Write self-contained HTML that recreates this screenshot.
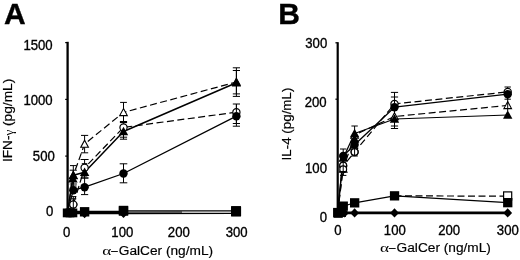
<!DOCTYPE html>
<html lang="en">
<head>
<meta charset="utf-8">
<title>Figure</title>
<style>
html,body{margin:0;padding:0;background:#fff;}
body{width:520px;height:260px;overflow:hidden;}
svg{display:block;font-family:"Liberation Sans", Arial, Helvetica, sans-serif;fill:#000;}
text{stroke:#000;stroke-width:0.35px;}
</style>
</head>
<body>
<svg width="520" height="260" viewBox="0 0 520 260">
<rect x="0" y="0" width="520" height="260" fill="#fff" stroke="none"/>
<text transform="translate(4.0,24.3) scale(1,1)" font-size="30" text-anchor="start" font-weight="bold">A</text>
<text transform="translate(278.2,24.3) scale(1,1)" font-size="30" text-anchor="start" font-weight="bold">B</text>
<line x1="67.6" y1="41.8" x2="67.6" y2="214.0" stroke="#000" stroke-width="2.3"/>
<line x1="65.2" y1="42.6" x2="67.6" y2="42.6" stroke="#000" stroke-width="1.2"/>
<line x1="65.2" y1="99.4" x2="67.6" y2="99.4" stroke="#000" stroke-width="1.2"/>
<line x1="65.2" y1="156.1" x2="67.6" y2="156.1" stroke="#000" stroke-width="1.2"/>
<text transform="translate(52.7,50.3) scale(0.94,1)" font-size="14" text-anchor="end" font-weight="normal">1500</text>
<text transform="translate(52.7,105.0) scale(0.94,1)" font-size="14" text-anchor="end" font-weight="normal">1000</text>
<text transform="translate(54.8,160.8) scale(0.94,1)" font-size="14" text-anchor="end" font-weight="normal">500</text>
<text transform="translate(53.3,215.6) scale(0.94,1)" font-size="14" text-anchor="end" font-weight="normal">0</text>
<text transform="translate(66.7,236.5) scale(0.94,1)" font-size="14" text-anchor="middle" font-weight="normal">0</text>
<text transform="translate(122.3,236.5) scale(0.94,1)" font-size="14" text-anchor="middle" font-weight="normal">100</text>
<text transform="translate(178.8,236.5) scale(0.94,1)" font-size="14" text-anchor="middle" font-weight="normal">200</text>
<text transform="translate(236.7,236.5) scale(0.94,1)" font-size="14" text-anchor="middle" font-weight="normal">300</text>
<text transform="translate(102.2,254.8) scale(1.28,1)" font-family='"Liberation Serif", "DejaVu Serif", serif' font-size="13.5" style="stroke:none">α</text>
<text x="111.2" y="254.8" font-size="13" textLength="6.4" lengthAdjust="spacingAndGlyphs">–</text>
<text x="118.80000000000001" y="254.8" font-size="13.7" style="stroke-width:0.18px">GalCer (ng/mL)</text>
<text transform="translate(12.4,162.1) rotate(-90)" font-size="13.7" style="stroke-width:0.2px">IFN-<tspan font-family='"Liberation Serif", "DejaVu Serif", serif' font-size="13" style="stroke:none" dy="0.9">γ</tspan><tspan dy="-0.9"> (pg/mL)</tspan></text>
<line x1="236.4" y1="67.8" x2="236.4" y2="96.4" stroke="#000" stroke-width="1.0"/>
<line x1="232.8" y1="67.8" x2="240.0" y2="67.8" stroke="#000" stroke-width="1.0"/>
<line x1="232.8" y1="96.4" x2="240.0" y2="96.4" stroke="#000" stroke-width="1.0"/>
<line x1="236.4" y1="70.5" x2="236.4" y2="93.9" stroke="#000" stroke-width="1.0"/>
<line x1="232.8" y1="70.5" x2="240.0" y2="70.5" stroke="#000" stroke-width="1.0"/>
<line x1="232.8" y1="93.9" x2="240.0" y2="93.9" stroke="#000" stroke-width="1.0"/>
<line x1="236.4" y1="104.0" x2="236.4" y2="126.2" stroke="#000" stroke-width="1.0"/>
<line x1="232.8" y1="104.0" x2="240.0" y2="104.0" stroke="#000" stroke-width="1.0"/>
<line x1="232.8" y1="126.2" x2="240.0" y2="126.2" stroke="#000" stroke-width="1.0"/>
<line x1="236.4" y1="114.0" x2="236.4" y2="123.5" stroke="#000" stroke-width="1.0"/>
<line x1="232.8" y1="114.0" x2="240.0" y2="114.0" stroke="#000" stroke-width="1.0"/>
<line x1="232.8" y1="123.5" x2="240.0" y2="123.5" stroke="#000" stroke-width="1.0"/>
<line x1="123.5" y1="102.4" x2="123.5" y2="122.6" stroke="#000" stroke-width="1.0"/>
<line x1="120.1" y1="102.4" x2="126.9" y2="102.4" stroke="#000" stroke-width="1.0"/>
<line x1="120.1" y1="122.6" x2="126.9" y2="122.6" stroke="#000" stroke-width="1.0"/>
<line x1="123.5" y1="121.5" x2="123.5" y2="139.2" stroke="#000" stroke-width="1.0"/>
<line x1="119.9" y1="121.5" x2="127.1" y2="121.5" stroke="#000" stroke-width="1.0"/>
<line x1="119.9" y1="139.2" x2="127.1" y2="139.2" stroke="#000" stroke-width="1.0"/>
<line x1="123.5" y1="122.5" x2="123.5" y2="137.2" stroke="#000" stroke-width="1.0"/>
<line x1="119.9" y1="122.5" x2="127.1" y2="122.5" stroke="#000" stroke-width="1.0"/>
<line x1="119.9" y1="137.2" x2="127.1" y2="137.2" stroke="#000" stroke-width="1.0"/>
<line x1="123.5" y1="163.8" x2="123.5" y2="182.8" stroke="#000" stroke-width="1.0"/>
<line x1="119.7" y1="163.8" x2="127.3" y2="163.8" stroke="#000" stroke-width="1.0"/>
<line x1="119.7" y1="182.8" x2="127.3" y2="182.8" stroke="#000" stroke-width="1.0"/>
<line x1="84.6" y1="135.4" x2="84.6" y2="152.8" stroke="#000" stroke-width="1.0"/>
<line x1="81.0" y1="135.4" x2="88.2" y2="135.4" stroke="#000" stroke-width="1.0"/>
<line x1="81.0" y1="152.8" x2="88.2" y2="152.8" stroke="#000" stroke-width="1.0"/>
<line x1="84.6" y1="159.5" x2="84.6" y2="178.0" stroke="#000" stroke-width="1.0"/>
<line x1="80.6" y1="159.5" x2="88.6" y2="159.5" stroke="#000" stroke-width="1.0"/>
<line x1="80.6" y1="178.0" x2="88.6" y2="178.0" stroke="#000" stroke-width="1.0"/>
<line x1="84.6" y1="163.7" x2="84.6" y2="176.0" stroke="#000" stroke-width="1.0"/>
<line x1="81.8" y1="163.7" x2="87.3" y2="163.7" stroke="#000" stroke-width="1.0"/>
<line x1="81.8" y1="176.0" x2="87.3" y2="176.0" stroke="#000" stroke-width="1.0"/>
<line x1="84.6" y1="178.0" x2="84.6" y2="194.6" stroke="#000" stroke-width="1.0"/>
<line x1="81.0" y1="178.0" x2="88.2" y2="178.0" stroke="#000" stroke-width="1.0"/>
<line x1="81.0" y1="194.6" x2="88.2" y2="194.6" stroke="#000" stroke-width="1.0"/>
<line x1="73.3" y1="165.6" x2="73.3" y2="186.0" stroke="#000" stroke-width="1.0"/>
<line x1="70.0" y1="165.6" x2="76.6" y2="165.6" stroke="#000" stroke-width="1.0"/>
<line x1="70.0" y1="186.0" x2="76.6" y2="186.0" stroke="#000" stroke-width="1.0"/>
<line x1="73.3" y1="170.2" x2="73.3" y2="184.0" stroke="#000" stroke-width="1.0"/>
<line x1="69.7" y1="170.2" x2="76.9" y2="170.2" stroke="#000" stroke-width="1.0"/>
<line x1="69.7" y1="184.0" x2="76.9" y2="184.0" stroke="#000" stroke-width="1.0"/>
<line x1="73.3" y1="198.8" x2="73.3" y2="211.0" stroke="#000" stroke-width="1.0"/>
<line x1="70.3" y1="198.8" x2="76.3" y2="198.8" stroke="#000" stroke-width="1.0"/>
<line x1="70.3" y1="211.0" x2="76.3" y2="211.0" stroke="#000" stroke-width="1.0"/>
<polyline points="67.6,211.0 73.3,175.5 84.6,144.0 123.5,112.4 236.4,82.0" fill="none" stroke="#000" stroke-width="1.2" stroke-dasharray="7 3.5" stroke-linejoin="round"/>
<polyline points="67.6,211.0 73.3,204.6 84.6,167.7 123.5,127.4 236.4,112.2" fill="none" stroke="#000" stroke-width="1.2" stroke-dasharray="7 3.5" stroke-linejoin="round"/>
<polyline points="67.6,211.0 73.3,175.3 84.6,172.2 123.5,131.5 236.4,82.8" fill="none" stroke="#000" stroke-width="1.5" stroke-linejoin="round"/>
<polyline points="67.6,211.0 73.3,190.2 84.6,187.2 123.5,173.5 236.4,116.2" fill="none" stroke="#000" stroke-width="1.3" stroke-linejoin="round"/>
<line x1="67.6" y1="212.5" x2="123.5" y2="212.5" stroke="#000" stroke-width="3.6"/>
<line x1="123.5" y1="210.9" x2="236.4" y2="210.8" stroke="#000" stroke-width="1.3"/>
<line x1="123.5" y1="213.5" x2="236.4" y2="213.4" stroke="#000" stroke-width="1.4"/>
<line x1="123.5" y1="212.2" x2="182.0" y2="212.0" stroke="#333" stroke-width="1.3"/>
<polygon points="73.3,171.7 77.1,178.7 69.5,178.7" fill="#fff" stroke="#000" stroke-width="1.1"/>
<polygon points="84.6,140.2 88.4,147.2 80.8,147.2" fill="#fff" stroke="#000" stroke-width="1.1"/>
<polygon points="123.5,108.6 127.3,115.6 119.7,115.6" fill="#fff" stroke="#000" stroke-width="1.1"/>
<polygon points="236.4,78.2 240.2,85.2 232.6,85.2" fill="#fff" stroke="#000" stroke-width="1.1"/>
<circle cx="73.3" cy="204.6" r="3.6" fill="#fff" stroke="#000" stroke-width="1.2"/>
<circle cx="84.6" cy="167.7" r="3.6" fill="#fff" stroke="#000" stroke-width="1.2"/>
<circle cx="123.5" cy="127.4" r="3.6" fill="#fff" stroke="#000" stroke-width="1.2"/>
<circle cx="236.4" cy="112.2" r="3.6" fill="#fff" stroke="#000" stroke-width="1.2"/>
<line x1="236.4" y1="104.0" x2="236.4" y2="112.0" stroke="#000" stroke-width="1.0"/>
<polygon points="73.3,170.5 78.0,179.1 68.6,179.1" fill="#000"/>
<polygon points="84.6,167.4 89.3,176.0 79.9,176.0" fill="#000"/>
<polygon points="123.5,126.7 128.2,135.3 118.8,135.3" fill="#000"/>
<polygon points="236.4,78.0 241.1,86.6 231.7,86.6" fill="#000"/>
<polygon points="72.8,173.9 77.7,182.5 67.9,182.5" fill="#000"/>
<circle cx="73.3" cy="190.2" r="4.2" fill="#000"/>
<circle cx="84.6" cy="187.2" r="4.2" fill="#000"/>
<circle cx="123.5" cy="173.5" r="4.2" fill="#000"/>
<circle cx="236.4" cy="116.2" r="4.2" fill="#000"/>
<rect x="79.9" y="207.1" width="9.4" height="9.4" fill="#000"/>
<rect x="118.8" y="206.3" width="9.4" height="9.4" fill="#000"/>
<rect x="231.7" y="206.7" width="9.4" height="9.4" fill="#000"/>
<rect x="118.8" y="205.8" width="9.4" height="9.4" fill="#000"/>
<rect x="62.8" y="208.5" width="8.8" height="8.8" fill="#000"/>
<rect x="65.6" y="208.5" width="8.8" height="8.8" fill="#000"/>
<rect x="68.5" y="208.5" width="8.8" height="8.8" fill="#000"/>
<rect x="231.1" y="206.1" width="9.8" height="9.8" fill="#000"/>
<rect x="231.1" y="206.7" width="9.8" height="9.8" fill="#000"/>
<polygon points="84.6,209.0 89.0,213.6 84.6,218.2 80.2,213.6" fill="#000"/>
<polygon points="123.5,208.8 127.9,213.4 123.5,218.0 119.1,213.4" fill="#000"/>
<circle cx="73.3" cy="204.6" r="3.6" fill="#fff" stroke="#000" stroke-width="1.2"/>
<line x1="73.3" y1="196.6" x2="73.3" y2="210.5" stroke="#000" stroke-width="1.0"/>
<line x1="70.5" y1="196.6" x2="76.1" y2="196.6" stroke="#000" stroke-width="1.0"/>
<line x1="70.5" y1="210.5" x2="76.1" y2="210.5" stroke="#000" stroke-width="1.0"/>
<line x1="337.7" y1="42.2" x2="337.7" y2="214.2" stroke="#000" stroke-width="2.2"/>
<line x1="335.4" y1="42.8" x2="337.7" y2="42.8" stroke="#000" stroke-width="1.2"/>
<line x1="335.4" y1="99.2" x2="337.7" y2="99.2" stroke="#000" stroke-width="1.2"/>
<text transform="translate(327.2,47.6) scale(0.94,1)" font-size="14" text-anchor="end" font-weight="normal">300</text>
<text transform="translate(326.6,106.8) scale(0.94,1)" font-size="14" text-anchor="end" font-weight="normal">200</text>
<text transform="translate(327.0,173.2) scale(0.94,1)" font-size="14" text-anchor="end" font-weight="normal">100</text>
<text transform="translate(327.0,222.0) scale(0.94,1)" font-size="14" text-anchor="end" font-weight="normal">0</text>
<text transform="translate(337.8,234.6) scale(0.94,1)" font-size="14" text-anchor="middle" font-weight="normal">0</text>
<text transform="translate(394.8,234.6) scale(0.94,1)" font-size="14" text-anchor="middle" font-weight="normal">100</text>
<text transform="translate(449.2,234.6) scale(0.94,1)" font-size="14" text-anchor="middle" font-weight="normal">200</text>
<text transform="translate(507.8,234.6) scale(0.94,1)" font-size="14" text-anchor="middle" font-weight="normal">300</text>
<text transform="translate(380.0,252.3) scale(1.28,1)" font-family='"Liberation Serif", "DejaVu Serif", serif' font-size="13.5" style="stroke:none">α</text>
<text x="389.0" y="252.3" font-size="13" textLength="6.4" lengthAdjust="spacingAndGlyphs">–</text>
<text x="396.6" y="252.3" font-size="13.7" style="stroke-width:0.18px">GalCer (ng/mL)</text>
<text transform="translate(291.0,160.5) rotate(-90)" font-size="13.4" style="stroke-width:0.2px">IL-4 (pg/mL)</text>
<line x1="394.5" y1="92.4" x2="394.5" y2="128.5" stroke="#000" stroke-width="1.0"/>
<line x1="390.9" y1="92.4" x2="398.1" y2="92.4" stroke="#000" stroke-width="1.0"/>
<line x1="390.9" y1="128.5" x2="398.1" y2="128.5" stroke="#000" stroke-width="1.0"/>
<line x1="394.5" y1="97.0" x2="394.5" y2="126.0" stroke="#000" stroke-width="1.0"/>
<line x1="390.9" y1="97.0" x2="398.1" y2="97.0" stroke="#000" stroke-width="1.0"/>
<line x1="390.9" y1="126.0" x2="398.1" y2="126.0" stroke="#000" stroke-width="1.0"/>
<line x1="354.6" y1="126.0" x2="354.6" y2="156.0" stroke="#000" stroke-width="1.0"/>
<line x1="351.4" y1="126.0" x2="357.8" y2="126.0" stroke="#000" stroke-width="1.0"/>
<line x1="351.4" y1="156.0" x2="357.8" y2="156.0" stroke="#000" stroke-width="1.0"/>
<line x1="343.2" y1="149.0" x2="343.2" y2="175.4" stroke="#000" stroke-width="1.0"/>
<line x1="340.0" y1="149.0" x2="346.4" y2="149.0" stroke="#000" stroke-width="1.0"/>
<line x1="340.0" y1="175.4" x2="346.4" y2="175.4" stroke="#000" stroke-width="1.0"/>
<line x1="507.7" y1="87.0" x2="507.7" y2="99.2" stroke="#000" stroke-width="1.0"/>
<line x1="504.5" y1="87.0" x2="510.9" y2="87.0" stroke="#000" stroke-width="1.0"/>
<line x1="504.5" y1="99.2" x2="510.9" y2="99.2" stroke="#000" stroke-width="1.0"/>
<polyline points="337.7,212.0 343.2,166.0 354.6,152.0 394.5,103.9 507.7,91.9" fill="none" stroke="#000" stroke-width="1.2" stroke-dasharray="7 3.5" stroke-linejoin="round"/>
<polyline points="337.7,212.0 343.2,169.0 354.6,135.0 394.5,116.5 507.7,105.4" fill="none" stroke="#000" stroke-width="1.2" stroke-dasharray="7 3.5" stroke-linejoin="round"/>
<polyline points="337.7,212.0 343.2,156.0 354.6,144.8 394.5,107.2 507.7,94.2" fill="none" stroke="#000" stroke-width="1.25" stroke-linejoin="round"/>
<polyline points="337.7,212.0 343.2,158.0 354.6,133.5 394.5,119.0 507.7,115.0" fill="none" stroke="#000" stroke-width="1.25" stroke-linejoin="round"/>
<polyline points="337.7,212.6 343.2,206.2 354.6,202.8 394.5,195.8 507.7,202.7" fill="none" stroke="#000" stroke-width="1.2" stroke-linejoin="round"/>
<line x1="394.5" y1="195.8" x2="503.7" y2="196.2" stroke="#000" stroke-width="1.2" stroke-dasharray="7 3.5"/>
<line x1="337.7" y1="212.9" x2="507.7" y2="212.9" stroke="#000" stroke-width="2.6"/>
<polygon points="343.2,165.2 347.0,172.2 339.4,172.2" fill="#fff" stroke="#000" stroke-width="1.1"/>
<polygon points="354.6,131.2 358.4,138.2 350.8,138.2" fill="#fff" stroke="#000" stroke-width="1.1"/>
<polygon points="394.5,112.7 398.3,119.7 390.7,119.7" fill="#fff" stroke="#000" stroke-width="1.1"/>
<polygon points="507.7,101.6 511.5,108.6 503.9,108.6" fill="#fff" stroke="#000" stroke-width="1.1"/>
<circle cx="343.2" cy="166.0" r="3.6" fill="#fff" stroke="#000" stroke-width="1.2"/>
<circle cx="354.6" cy="152.0" r="3.6" fill="#fff" stroke="#000" stroke-width="1.2"/>
<circle cx="394.5" cy="103.9" r="3.6" fill="#fff" stroke="#000" stroke-width="1.2"/>
<circle cx="507.7" cy="91.9" r="3.6" fill="#fff" stroke="#000" stroke-width="1.2"/>
<polygon points="343.2,153.2 347.9,161.8 338.5,161.8" fill="#000"/>
<polygon points="354.6,128.7 359.3,137.3 349.9,137.3" fill="#000"/>
<polygon points="394.5,114.2 399.2,122.8 389.8,122.8" fill="#000"/>
<polygon points="507.7,110.2 512.4,118.8 503.0,118.8" fill="#000"/>
<polygon points="354.6,134.2 359.3,142.8 349.9,142.8" fill="#000"/>
<circle cx="343.2" cy="156.0" r="4.2" fill="#000"/>
<circle cx="354.6" cy="144.8" r="4.2" fill="#000"/>
<circle cx="394.5" cy="107.2" r="4.2" fill="#000"/>
<circle cx="507.7" cy="94.2" r="4.2" fill="#000"/>
<circle cx="343.2" cy="165.6" r="3.4" fill="#fff" stroke="#000" stroke-width="1.2"/>
<circle cx="343.2" cy="169.3" r="3.4" fill="#fff" stroke="#000" stroke-width="1.2"/>
<circle cx="354.6" cy="152.0" r="3.4" fill="#fff" stroke="#000" stroke-width="1.2"/>
<line x1="354.6" y1="147.5" x2="354.6" y2="156.0" stroke="#000" stroke-width="1.0"/>
<line x1="507.7" y1="98.0" x2="507.7" y2="111.0" stroke="#000" stroke-width="1.0"/>
<line x1="394.5" y1="97.0" x2="394.5" y2="103.5" stroke="#000" stroke-width="1.0"/>
<line x1="343.2" y1="160.0" x2="343.2" y2="175.4" stroke="#000" stroke-width="1.0"/>
<line x1="340.7" y1="171.5" x2="345.7" y2="171.5" stroke="#000" stroke-width="1.0"/>
<rect x="503.6" y="191.9" width="8.100000000000001" height="8.100000000000001" fill="#fff" stroke="#000" stroke-width="1.2"/>
<rect x="333.1" y="207.9" width="9.3" height="9.3" fill="#000"/>
<rect x="338.6" y="201.5" width="9.3" height="9.3" fill="#000"/>
<rect x="350.0" y="198.2" width="9.3" height="9.3" fill="#000"/>
<rect x="389.9" y="191.2" width="9.3" height="9.3" fill="#000"/>
<rect x="503.1" y="198.0" width="9.3" height="9.3" fill="#000"/>
<rect x="333.6" y="208.6" width="9.2" height="9.2" fill="#000"/>
<rect x="337.0" y="207.9" width="9" height="9" fill="#000"/>
<polygon points="354.6,208.3 359.0,212.9 354.6,217.5 350.2,212.9" fill="#000"/>
<polygon points="394.5,208.3 398.9,212.9 394.5,217.5 390.1,212.9" fill="#000"/>
<polygon points="507.7,208.3 512.1,212.9 507.7,217.5 503.3,212.9" fill="#000"/>
<polygon points="344.5,208.3 348.9,212.9 344.5,217.5 340.1,212.9" fill="#000"/>
</svg>
</body>
</html>
